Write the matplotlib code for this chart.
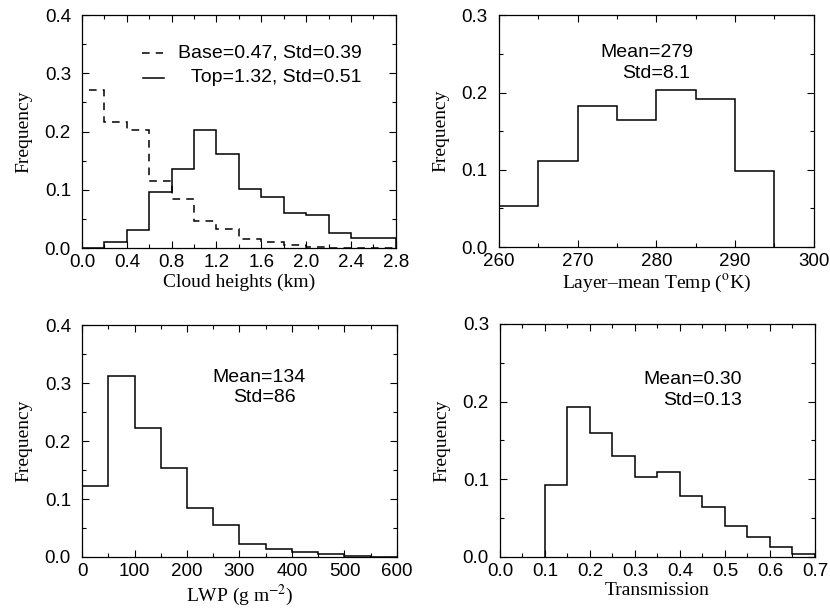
import matplotlib
matplotlib.use("Agg")
import matplotlib.pyplot as plt
from matplotlib.ticker import MultipleLocator
import numpy as np

plt.rcParams["font.family"] = ["Liberation Sans", "DejaVu Sans"]
plt.rcParams["mathtext.fontset"] = "stix"

# Cloud base / top heights, 0.2 km bins
height_edges = np.arange(0.0, 2.81, 0.2)
base_freq = [0.271, 0.216, 0.203, 0.115, 0.085, 0.046, 0.033, 0.015, 0.010,
             0.005, 0.002, 0.0, 0.0, 0.0]
top_freq = [0.0, 0.010, 0.031, 0.096, 0.136, 0.202, 0.162, 0.102, 0.087,
            0.060, 0.057, 0.026, 0.017, 0.018]

# Layer-mean temperature, 5 K bins
temp_edges = np.arange(260, 296, 5)
temp_freq = [0.053, 0.111, 0.183, 0.164, 0.203, 0.191, 0.099]

# Liquid water path, 50 g/m2 bins
lwp_edges = np.arange(0, 601, 50)
lwp_freq = [0.122, 0.313, 0.222, 0.153, 0.084, 0.056, 0.023, 0.014, 0.008,
            0.005, 0.001, 0.0]

# Transmission, 0.05 bins
trans_edges = np.arange(0.10, 0.701, 0.05)
trans_freq = [0.093, 0.193, 0.160, 0.130, 0.103, 0.109, 0.079, 0.064, 0.040,
              0.026, 0.013, 0.004]

SERIF = ["Liberation Serif", "DejaVu Serif"]
DASH = (0, (5, 4))
TXT = 14


def style_axis(ax, xlim, ylim, xmajor, xminor, ymajor, yminor, xlabel, xfmt):
    ax.set_xlim(*xlim)
    ax.set_ylim(*ylim)
    ax.xaxis.set_major_locator(MultipleLocator(xmajor))
    ax.xaxis.set_minor_locator(MultipleLocator(xminor))
    ax.yaxis.set_major_locator(MultipleLocator(ymajor))
    ax.yaxis.set_minor_locator(MultipleLocator(yminor))
    ax.xaxis.set_major_formatter(xfmt)
    ax.yaxis.set_major_formatter("{x:.1f}")
    ax.tick_params(which="both", direction="in", top=True, right=True,
                   labelsize=13.5, width=0.8)
    ax.tick_params(which="major", length=5)
    ax.tick_params(which="minor", length=3)
    ax.tick_params(axis="x", which="major", pad=4)
    ax.tick_params(axis="y", which="major", pad=8)
    ax.set_xlabel(xlabel, family=SERIF, fontsize=14, labelpad=2)
    ax.set_ylabel("Frequency", family=SERIF, fontsize=14, labelpad=9)
    for s in ax.spines.values():
        s.set_linewidth(0.9)


fig = plt.figure(figsize=(8.3, 6.1), dpi=100)

# Panel 1: cloud heights
ax1 = fig.add_axes([0.0988, 0.5934, 0.378, 0.382])
ax1.stairs(base_freq, height_edges, color="black", lw=1.1, ls=DASH)
ax1.stairs(top_freq, height_edges, color="black", lw=1.1)
style_axis(ax1, (0, 2.8), (0, 0.4), 0.4, 0.2, 0.1, 0.05,
           "Cloud heights (km)", "{x:.1f}")
ax1.plot([0.191, 0.258], [0.837, 0.837], transform=ax1.transAxes,
         color="black", lw=1.1, ls=DASH)
ax1.plot([0.194, 0.262], [0.730, 0.730], transform=ax1.transAxes,
         color="black", lw=1.1)
ax1.text(0.892, 0.837, "Base=0.47, Std=0.39", transform=ax1.transAxes,
         ha="right", va="center", fontsize=TXT)
ax1.text(0.892, 0.730, "Top=1.32, Std=0.51", transform=ax1.transAxes,
         ha="right", va="center", fontsize=TXT)

# Panel 2: layer-mean temperature
ax2 = fig.add_axes([0.601, 0.595, 0.3795, 0.380])
ax2.stairs(temp_freq, temp_edges, color="black", lw=1.1)
style_axis(ax2, (260, 300), (0, 0.3), 10, 5, 0.1, 0.05,
           "Layer\u2013mean Temp ($^{\\mathrm{o}}$K)", "{x:.0f}")
ax2.text(0.321, 0.84, "Mean=279", transform=ax2.transAxes,
         ha="left", va="center", fontsize=TXT)
ax2.text(0.39, 0.75, "Std=8.1", transform=ax2.transAxes,
         ha="left", va="center", fontsize=TXT)

# Panel 3: LWP
ax3 = fig.add_axes([0.0988, 0.0869, 0.3795, 0.380])
ax3.stairs(lwp_freq, lwp_edges, color="black", lw=1.1)
style_axis(ax3, (0, 600), (0, 0.4), 100, 50, 0.1, 0.05,
           "LWP (g m$^{-2}$)", "{x:.0f}")
ax3.text(0.413, 0.776, "Mean=134", transform=ax3.transAxes,
         ha="left", va="center", fontsize=TXT)
ax3.text(0.479, 0.69, "Std=86", transform=ax3.transAxes,
         ha="left", va="center", fontsize=TXT)

# Panel 4: transmission
ax4 = fig.add_axes([0.6024, 0.0869, 0.3795, 0.382])
ax4.stairs(trans_freq, trans_edges, color="black", lw=1.1)
style_axis(ax4, (0, 0.7), (0, 0.3), 0.1, 0.05, 0.1, 0.05,
           "Transmission", "{x:.1f}")
ax4.text(0.768, 0.76, "Mean=0.30", transform=ax4.transAxes,
         ha="right", va="center", fontsize=TXT)
ax4.text(0.768, 0.67, "Std=0.13", transform=ax4.transAxes,
         ha="right", va="center", fontsize=TXT)

fig.savefig("out.png", dpi=100)
